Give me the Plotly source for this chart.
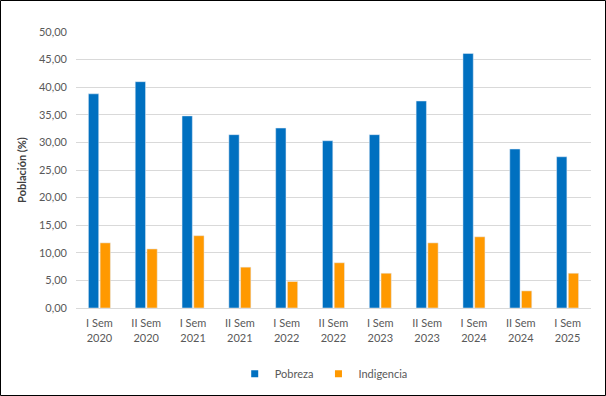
import plotly.graph_objects as go

categories = ["I Sem<br>2020", "II Sem<br>2020", "I Sem<br>2021", "II Sem<br>2021", "I Sem<br>2022",
              "II Sem<br>2022", "I Sem<br>2023", "II Sem<br>2023", "I Sem<br>2024", "II Sem<br>2024",
              "I Sem<br>2025"]
pobreza = [38.8, 41.0, 34.8, 31.4, 32.6, 30.3, 31.4, 37.5, 46.1, 28.8, 27.4]
indigencia = [11.8, 10.7, 13.1, 7.4, 4.8, 8.2, 6.3, 11.8, 12.9, 3.1, 6.3]
series_names = ["Pobreza", "Indigencia"]
series_colors = ["#0070C0", "#FF9900"]

W, H = 606, 396
ml, mr, mt, mb = 76, 15, 32, 88
pw, ph = W - ml - mr, H - mt - mb

fig = go.Figure()
for name, vals, col in zip(series_names, [pobreza, indigencia], series_colors):
    fig.add_trace(go.Bar(name=name, x=categories, y=vals, marker_color=col, showlegend=False))
# legend entries with small square symbols
for name, col in zip(series_names, series_colors):
    fig.add_trace(go.Scatter(name=name, x=[None], y=[None], mode="markers",
                             marker=dict(symbol="square", size=7, color=col), showlegend=True))

font_family = "Lato, Open Sans, sans-serif"
fig.update_layout(
    width=W, height=H,
    margin=dict(l=ml, r=mr, t=mt, b=mb, autoexpand=False),
    paper_bgcolor="white", plot_bgcolor="white",
    barmode="group", bargap=0.5, bargroupgap=0.12,
    separators=",.",
    font=dict(family=font_family, size=11, color="#595959"),
    legend=dict(orientation="h", x=0.481, xanchor="center", yref="container", y=0.093, yanchor="top",
                font=dict(size=11, color="#595959"), itemwidth=30, traceorder="normal",
                tracegroupgap=0),
    showlegend=True,
)
fig.update_xaxes(showgrid=False, showline=True, linecolor="#d9d9d9", linewidth=1,
                 ticks="", ticklabelstandoff=5, tickfont=dict(size=11, color="#595959"))
fig.update_yaxes(range=[0, 50], dtick=5, tickformat=".2f", showgrid=True, gridcolor="#d9d9d9",
                 gridwidth=1, zeroline=False, ticks="", ticklabelstandoff=8,
                 tickfont=dict(size=11, color="#595959"),
                 title=dict(text="<b>Población (%)</b>", font=dict(size=11, color="#404040"), standoff=10))

# outer border of the chart area
fig.add_shape(type="rect", xref="paper", yref="paper",
              x0=(0.5 - ml) / pw, x1=(W - 0.5 - ml) / pw,
              y0=-(H - 0.5 - mt - ph) / ph, y1=1 + (mt - 0.5) / ph,
              line=dict(color="black", width=1), fillcolor="rgba(0,0,0,0)", layer="above")

fig.write_html("out.html", config={"displayModeBar": False},
               post_script="document.body.style.margin='0';document.body.style.overflow='hidden';")
